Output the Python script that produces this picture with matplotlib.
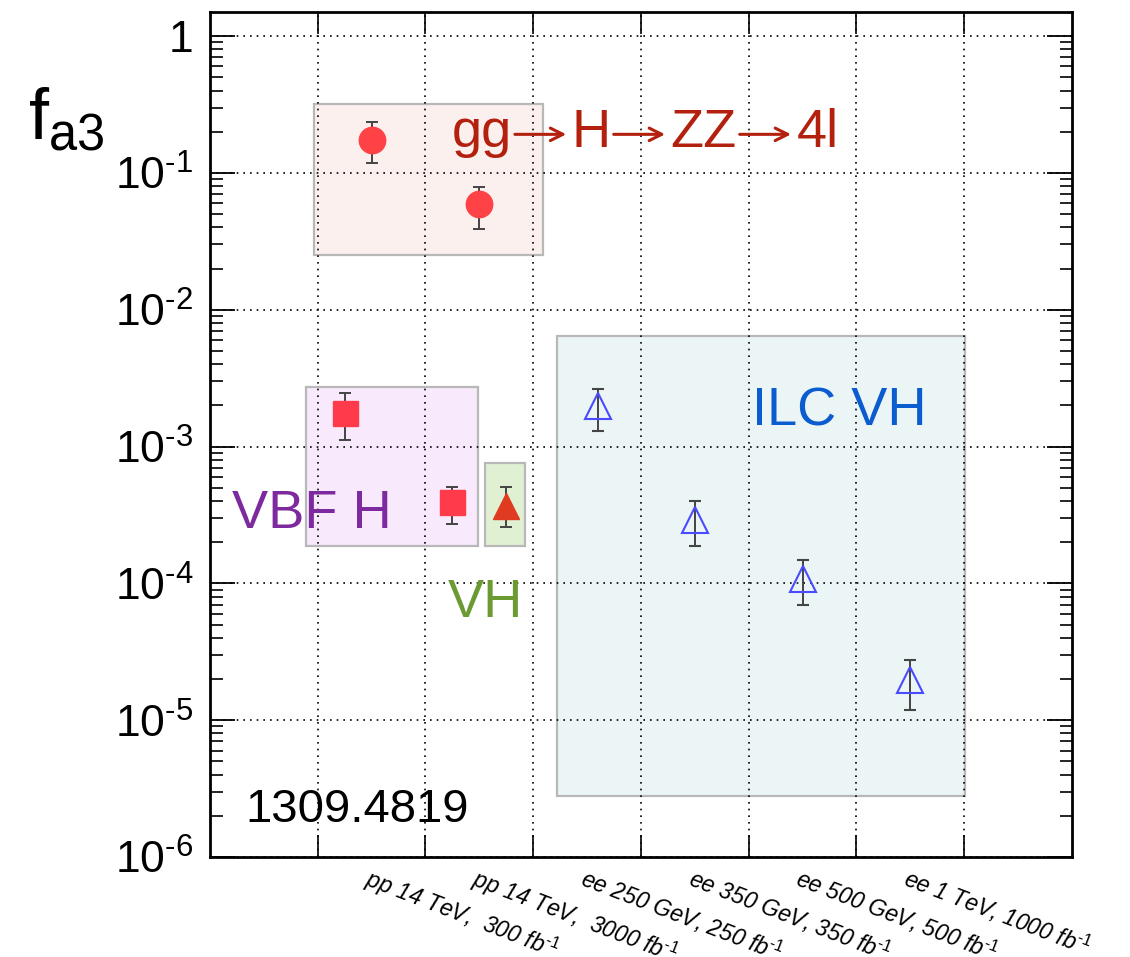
import numpy as np
import matplotlib
matplotlib.use("Agg")
import matplotlib.pyplot as plt
from matplotlib.patches import Rectangle

plt.rcParams['font.family'] = ['Liberation Sans', 'DejaVu Sans']
plt.rcParams['mathtext.fontset'] = 'custom'
plt.rcParams['mathtext.rm'] = 'Liberation Sans'
plt.rcParams['mathtext.it'] = 'Liberation Sans:italic'
plt.rcParams['mathtext.bf'] = 'Liberation Sans:bold'

# collider scenarios (one bin each)
scenarios = ['pp 14 TeV,  300 fb$^{\\text{-}1}$', 'pp 14 TeV,  3000 fb$^{\\text{-}1}$',
             'ee 250 GeV, 250 fb$^{\\text{-}1}$', 'ee 350 GeV, 350 fb$^{\\text{-}1}$',
             'ee 500 GeV, 500 fb$^{\\text{-}1}$', 'ee 1 TeV, 1000 fb$^{\\text{-}1}$']
bin_centers = [1.5, 2.5, 3.5, 4.5, 5.5, 6.5]

# gg -> H -> ZZ -> 4l
gg_x = [1.5, 2.5]
gg_val = [0.175, 0.059]
gg_lo = [0.118, 0.039]
gg_hi = [0.235, 0.079]

# VBF H
vbf_x = [1.25, 2.25]
vbf_val = [1.77e-3, 3.9e-4]
vbf_lo = [1.12e-3, 2.7e-4]
vbf_hi = [2.48e-3, 5.1e-4]

# VH (pp)
vh_x = [2.75]
vh_val = [3.65e-4]
vh_lo = [2.56e-4]
vh_hi = [5.1e-4]

# ILC VH
ilc_x = [3.6, 4.5, 5.5, 6.5]
ilc_val = [1.99e-3, 2.88e-4, 1.07e-4, 1.96e-5]
ilc_lo = [1.29e-3, 1.89e-4, 7.0e-5, 1.18e-5]
ilc_hi = [2.65e-3, 4.03e-4, 1.47e-4, 2.74e-5]

y_ticks = [1e-6, 1e-5, 1e-4, 1e-3, 1e-2, 1e-1, 1]
y_labels = ['10$^{\\text{-}6}$', '10$^{\\text{-}5}$', '10$^{\\text{-}4}$',
            '10$^{\\text{-}3}$', '10$^{\\text{-}2}$', '10$^{\\text{-}1}$', '1']

decay_chain = ['gg', 'H', 'ZZ', '4l']


def yerr(val, lo, hi):
    v = np.array(val)
    return [v - np.array(lo), np.array(hi) - v]


fig = plt.figure(figsize=(11.3, 9.57), dpi=100)
ax = fig.add_axes([0.1858, 0.1045, 0.7628, 0.883])
ax.set_yscale('log')
ax.set_xlim(0, 8)
ax.set_ylim(1e-6, 1.5)

# group boxes
boxes = [
    (0.965, 0.0252, 3.09, 0.319, '#fcf0ef'),
    (0.89, 1.86e-4, 2.49, 2.74e-3, '#f8eafc'),
    (2.55, 1.86e-4, 2.92, 7.64e-4, '#e0f0d2'),
    (3.22, 2.79e-6, 7.01, 6.46e-3, '#ebf5f6'),
]
for x0, y0, x1, y1, fc in boxes:
    ax.add_patch(Rectangle((x0, y0), x1 - x0, y1 - y0, facecolor=fc,
                           edgecolor='#b8b8b8', lw=1.6, zorder=1))

ebkw = dict(ls='none', ecolor='#444444', elinewidth=1.4, capsize=4, capthick=1.4)
ax.errorbar(gg_x, gg_val, yerr=yerr(gg_val, gg_lo, gg_hi), marker='o', ms=19,
            mfc='#ff4246', mec='#ff4246', **ebkw)
ax.errorbar(vbf_x, vbf_val, yerr=yerr(vbf_val, vbf_lo, vbf_hi), marker='s', ms=18,
            mfc='#ff3b4b', mec='#ff3b4b', **ebkw)
ax.errorbar(vh_x, vh_val, yerr=yerr(vh_val, vh_lo, vh_hi), marker='^', ms=19,
            mfc='#e03b20', mec='#e03b20', **ebkw)
ax.errorbar(ilc_x, ilc_val, yerr=yerr(ilc_val, ilc_lo, ilc_hi), marker='^', ms=19,
            mfc='none', mec='#4a4aff', mew=1.5, **ebkw)

# gg -> H -> ZZ -> 4l, pieces chained with arrows in between
red = '#b3200e'
prev = ax.text(2.245, 0.155, decay_chain[0], color=red, fontsize=39, va='baseline')
for piece in decay_chain[1:]:
    cur = ax.annotate(piece, xy=(1, 0), xycoords=prev, xytext=(43, 0),
                      textcoords='offset points', va='bottom', ha='left',
                      color=red, fontsize=39)
    ax.annotate('', xy=(0, 0.47), xycoords=cur, xytext=(1, 0.47), textcoords=prev,
                arrowprops=dict(arrowstyle='->,head_length=0.9,head_width=0.45',
                                color=red, lw=2.2, shrinkA=2, shrinkB=4))
    prev = cur

ax.text(5.03, 1.42e-3, 'ILC VH', color='#0a5ccf', fontsize=39, va='baseline')
ax.text(0.204, 2.52e-4, 'VBF H', color='#7d2a9e', fontsize=39, va='baseline')
ax.text(2.21, 5.65e-5, 'VH', color='#6b9a33', fontsize=39, va='baseline')
ax.text(0.325, 1.8e-6, '1309.4819', color='black', fontsize=34, va='baseline')

# axes styling
ax.set_xticks(range(1, 8))
ax.set_xticklabels([])
ax.set_xticks(bin_centers, scenarios, minor=True)
ax.tick_params(axis='x', which='major', direction='in', length=16, width=1.2,
               top=True, bottom=True)
ax.tick_params(axis='x', which='minor', length=0, pad=5, labelsize=16.5)
for lab in ax.get_xticklabels(minor=True):
    lab.set_rotation(-21)
    lab.set_ha('left')
    lab.set_style('italic')
    lab.set_rotation_mode('anchor')

ax.set_yticks(y_ticks, y_labels)
ax.tick_params(axis='y', which='major', direction='in', length=18, width=1.3,
               left=True, right=True, labelsize=32, pad=12)
ax.tick_params(axis='y', which='minor', direction='in', length=9, width=1.2,
               left=True, right=True)
for s in ax.spines.values():
    s.set_linewidth(2)

ax.grid(True, which='major', color='black', ls=(0, (1, 3)), lw=1.2)

fig.text(0.025, 0.855, 'f$_{\\rm a3}$', fontsize=52)

fig.savefig('out.png', dpi=100)
